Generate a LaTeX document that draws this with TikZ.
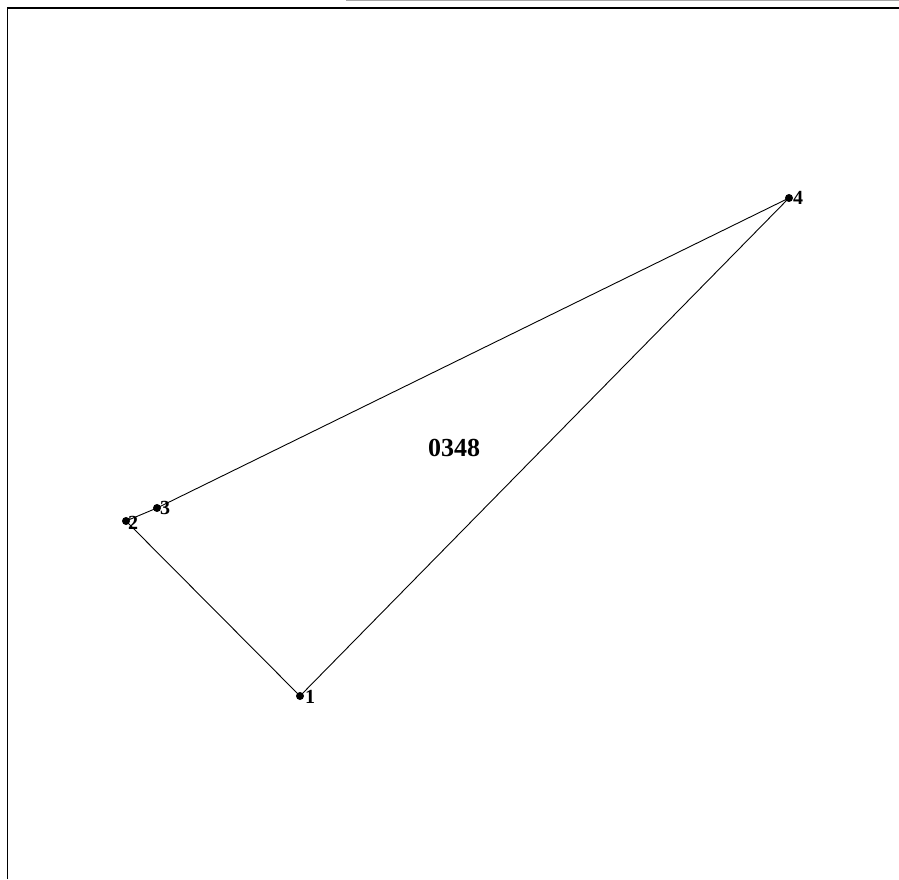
\documentclass[tikz,border=0pt]{standalone}
\usepackage{fontspec}
\setmainfont{Liberation Serif}
\begin{document}
\begin{tikzpicture}[x=1pt,y=1pt,
  pt/.style={circle,fill=black,inner sep=0pt,minimum size=8pt},
  lbl/.style={anchor=west,inner sep=0pt,font=\fontsize{20}{23}\selectfont\bfseries},
  edge/.style={draw=black,line width=0.9pt}]
\useasboundingbox (0,0) rectangle (899,879);
\fill[white] (0,0) rectangle (899,879);
\draw[gray!70,line width=1.5pt] (346,878.5) -- (899,878.5);
\draw[black,line width=1.5pt] (7.5,0) -- (7.5,871) -- (899,871);
\node[pt] (p1) at (300,183) {};
\node[pt] (p2) at (126,358) {};
\node[pt] (p3) at (157,371) {};
\node[pt] (p4) at (789,681) {};
\node[lbl] (l1) at (305,182) {1};
\node[lbl] (l2) at (128,356) {2};
\node[lbl] (l3) at (160,371) {3};
\node[lbl] (l4) at (793,681) {4};
\node[font=\fontsize{26}{29}\selectfont\bfseries] (title) at (454,431) {0348};
\draw[edge] (p1.center) -- (p2.center) -- (p3.center) -- (p4.center) -- (p1.center);
\end{tikzpicture}
\end{document}
